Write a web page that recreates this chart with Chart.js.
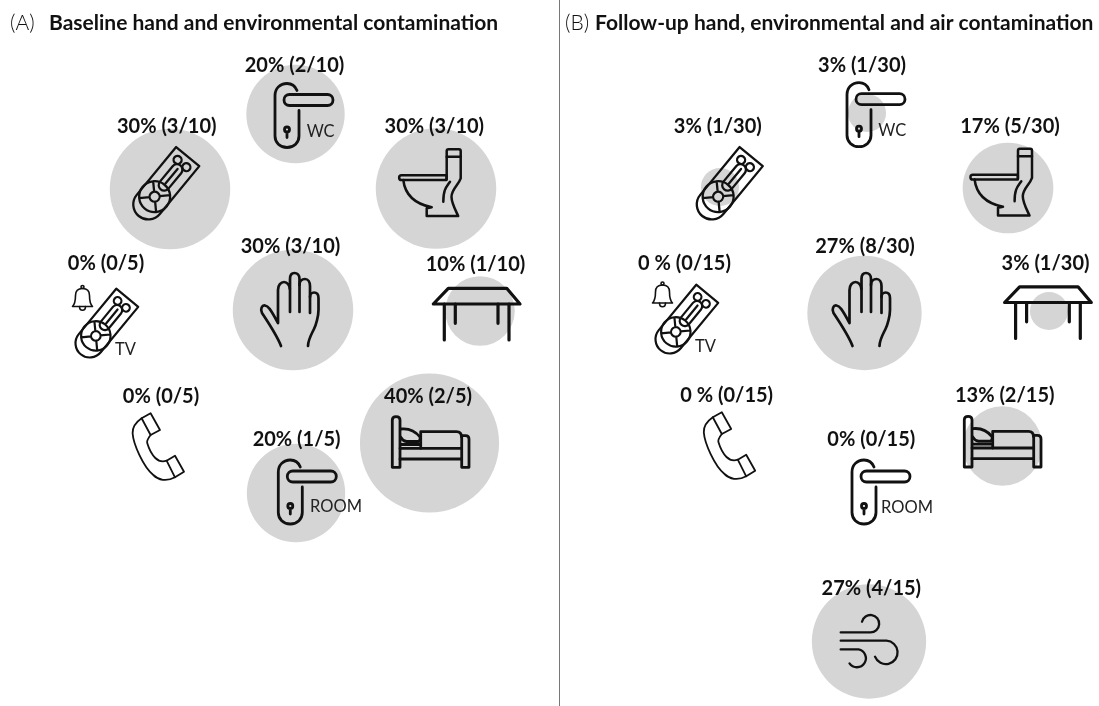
<!DOCTYPE html>
<html>
<head>
<meta charset="utf-8">
<title>Hand, environmental and air contamination</title>
<script src="https://cdn.jsdelivr.net/npm/chart.js@4"></script>
<style>
html, body { margin: 0; padding: 0; background: #fff; }
#wrap { width: 1099px; height: 706px; position: relative; }
#grafica { filter: blur(0.4px); }
</style>
</head>
<body>
<div id="wrap"><canvas id="grafica"></canvas></div>
<script>
// panel A, baseline
var percentA = [20, 30, 30, 0, 30, 10, 0, 20, 40];
var labelsA = ["20% (2/10)", "30% (3/10)", "30% (3/10)", "0% (0/5)", "30% (3/10)", "10% (1/10)", "0% (0/5)", "20% (1/5)", "40% (2/5)"];
var sitesA = ["door", "remote", "toilet", "remote", "hand", "table", "phone", "door", "bed"];
var bubbleXA = [295.5, 170, 436, 113, 293, 480, 158, 296, 429.5];
var bubbleYA = [114, 189, 188.5, 322, 310, 311, 447, 493, 443];
var labelXA = [294.5, 166.7, 434.3, 106, 290.5, 475.5, 161, 296.6, 428];
var labelYA = [71.7, 133.3, 133.3, 270, 253.3, 271, 403.3, 445.7, 402.7];
var iconXA = [304, 168, 430.5, 108.5, 289, 477, 158.3, 307.3, 430.5];
var iconYA = [115.5, 180.5, 183, 320.5, 310, 313.5, 447, 492, 442];

// panel B, follow-up
var percentB = [3, 3, 17, 0, 27, 3, 0, 0, 13, 27];
var labelsB = ["3% (1/30)", "3% (1/30)", "17% (5/30)", "0 % (0/15)", "27% (8/30)", "3% (1/30)", "0 % (0/15)", "0% (0/15)", "13% (2/15)", "27% (4/15)"];
var sitesB = ["door", "remote", "toilet", "remote", "hand", "table", "phone", "door", "bed", "wind"];
var bubbleXB = [867, 720, 1008, 684, 864.5, 1049, 729, 881, 1002.5, 869];
var bubbleYB = [113, 187, 188, 319, 313, 311, 446, 492, 446, 641.5];
var labelXB = [862, 717.8, 1010, 684.5, 865, 1045.5, 726.7, 871.3, 1004.7, 871.3];
var labelYB = [71.7, 133.3, 133.3, 270, 253.3, 270, 401.7, 446, 401.7, 595];
var iconXB = [876, 731.5, 1001.8, 688.5, 860.5, 1048.3, 729.5, 881, 1002.5, 869.5];
var iconYB = [114.7, 180.5, 182.5, 316.5, 310, 312, 446, 492, 441.7, 641.7];

// small captions next to the icons
var noteText = ["WC", "TV", "ROOM", "WC", "TV", "ROOM"];
var noteX = [306.7, 115, 310, 878.3, 695, 881];
var noteY = [137.3, 355, 512.3, 136, 351.7, 512.7];

var bellX = [82.5, 662.5];
var bellY = [298.5, 295];

var titleMarks = ["(A)", "(B)"];
var titleText = ["Baseline hand and environmental contamination", "Follow-up hand, environmental and air contamination"];
var titleMarkX = [10, 565];
var titleX = [49, 595];
var titleY = 30;

var dividerX = [559.5, 559.5];
var dividerY = [0, 706];

function radio(pct) {
    return 11 * Math.sqrt(pct);
}

function puntos(xs, ys, pcts) {
    return xs.map(function(x, i) {
        return { x: x, y: ys[i], r: radio(pcts[i]) };
    });
}

// line glyphs, drawn around 0,0
var glifos = {
    door: [new Path2D("M-7 -25 C-9 -30 -13 -32 -17 -32 C-24 -32 -29 -27 -29 -20 V20.5 C-29 27 -24 32 -17 32 C-10 32 -5 27 -5 20.5 V-5"),
           new Path2D("M-14.5 -21 H23.5 A5.5 5.5 0 0 1 23.5 -10 H-14.5 A5.5 5.5 0 0 1 -14.5 -21 Z"),
           new Path2D("M-14.5 14 A2.5 2.5 0 1 1 -19.5 14 A2.5 2.5 0 1 1 -14.5 14 Z M-17 16.5 V22")],
    remote: [new Path2D("M-31 -15 H31 V15 H-31 A15 15 0 0 1 -31 -15 Z"),
             new Path2D("M-6 -5.5 H14 A5.5 5.5 0 0 1 14 5.5 H-6 A5.5 5.5 0 0 1 -6 -5.5 Z M-4 0 H15"),
             new Path2D("M26 -5.7 A4 4 0 1 1 18 -5.7 A4 4 0 1 1 26 -5.7 Z M26 5.7 A4 4 0 1 1 18 5.7 A4 4 0 1 1 26 5.7 Z")],
    toilet: [new Path2D("M18 -33.7 H28.5 Q30.2 -33.7 30.2 -32 V-26.3 H16.2 V-32 Q16.2 -33.7 18 -33.7 Z"),
             new Path2D("M16.2 -26.3 V-4 M30.2 -26.3 V-4.7 C28 2 21 6 21 13.7 C21 20 25 27 27.7 33 H-3.8 V25.3 L1.2 24.3 C-10 22 -25 16 -27.2 -3"),
             new Path2D("M-29 -7.7 H16 V-3 H-29 A2.3 2.3 0 0 1 -29 -7.7 Z"),
             new Path2D("M19.5 -1.3 C16 4 12.8 6 12.8 18.7")],
    hand: [new Path2D("M-8 36 C-11 28 -15 21 -27 3 C-29 -1 -27 -5 -24 -4.5 C-21 -4 -19 -2 -11 13 V-20 C-11 -25 -8 -28 -5 -28 C-2 -28 1 -25 1 -20 V2"),
           new Path2D("M1 -21 V-31 C1 -35 3 -37 5.5 -37 C8 -37 10.5 -35 10.5 -31 V2"),
           new Path2D("M10.5 -25 C10.5 -29 13 -31 16 -31 C19 -31 21 -28 21 -24 V3"),
           new Path2D("M21 -13 C21 -16 23 -17.5 25 -17.5 C28 -17.5 29.5 -15 29.5 -12 V0 C29.5 6 27 15 25 19 C22 25 19 30 19 36")],
    table: [new Path2D("M-28.7 -25.2 H29.7 L43 -9.5 H-43.7 Z"),
            new Path2D("M-32.7 -9.5 V26.5 M32 -9.5 V26.5 M-21.7 -9.5 V9.8 M21 -9.5 V9.8")],
    phone: [new Path2D("M-16.7 -28.7 L-7.7 -33.7 L1.7 -17 L-7.7 -12 Z"),
            new Path2D("M8.3 13.7 L16.7 8.7 L25.7 24.7 L16.7 30.3 Z"),
            new Path2D("M-16.7 -28.7 C-22 -25 -26 -20 -25.7 -13.7 C-25 -3 -15 20 -5 28 C0 33 8 35 16.7 30.3"),
            new Path2D("M-7.7 -12 C-10 -9 -12 -6 -11 -3.7 C-9 3 -5 9 -3 11 C0 14 4 15 8.3 13.7")],
    bed: [new Path2D("M-38.2 25.3 V-22 Q-38.2 -25.3 -34.4 -25.3 Q-30.5 -25.3 -30.5 -22 V25.3 Z"),
          new Path2D("M31.2 -6.3 H35 Q38.5 -6.3 38.5 -3 V25.3 H31.2 Z"),
          new Path2D("M-30.5 6.3 H31.2 M-30.5 17 H31.2"),
          new Path2D("M-9.8 6.3 V-10.3 H26 Q31 -10.3 31 -5"),
          new Path2D("M-30 -13 C-22 -14 -16 -12 -10.5 -5 C-10 -3 -11 -1 -12 -0.5 H-24 C-27 -1 -29 -3 -30 -5 M-30 2.5 H-9.8")],
    wind: [new Path2D("M-28.8 -9.3 H1 A8.7 8.7 0 1 0 -7.5 -20"),
           new Path2D("M-28.8 -1 H17 A11.7 11.7 0 1 1 5.5 15"),
           new Path2D("M-28.8 7.7 H-11 A9 9 0 1 1 -20 21.7")],
    bell: [new Path2D("M-10 8 C-7 5 -7 1 -7 -3 C-7 -8 -4 -10 0 -10 C4 -10 7 -8 7 -3 C7 1 7 5 10 8 Z"),
           new Path2D("M-3 8 C-3 13 3 13 3 8"),
           new Path2D("M-1.5 -11.5 A1.5 1.5 0 1 1 1.5 -11.5 A1.5 1.5 0 1 1 -1.5 -11.5 Z")]
};
var grosor = { door: 2.8, remote: 2.3, toilet: 2.5, hand: 2.7, table: 3.2, phone: 1.8, bed: 2.8, wind: 2.3, bell: 1.6 };

function pintarGlifo(ctx, nombre, x, y, escala) {
    ctx.save();
    ctx.translate(x, y);
    ctx.scale(escala, escala);
    if (nombre == "remote") {
        ctx.rotate(-50.5 * Math.PI / 180);
    }
    ctx.lineWidth = grosor[nombre];
    ctx.lineCap = "round";
    ctx.lineJoin = "round";
    ctx.strokeStyle = "#111";
    glifos[nombre].forEach(function(p) { ctx.stroke(p); });
    if (nombre == "remote") {
        // dial of the remote
        ctx.beginPath();
        ctx.arc(-21, 0, 15.5, 0, Math.PI * 2);
        ctx.moveTo(-16, 0);
        ctx.arc(-21, 0, 5, 0, Math.PI * 2);
        for (var k = 0; k < 4; k++) {
            var a = Math.PI / 4 + k * Math.PI / 2;
            ctx.moveTo(-21 + 5 * Math.cos(a), 5 * Math.sin(a));
            ctx.lineTo(-21 + 15.5 * Math.cos(a), 15.5 * Math.sin(a));
        }
        ctx.stroke();
    }
    ctx.restore();
}

var dibujos = {
    id: "dibujos",
    afterDatasetsDraw: function(chart) {
        var ctx = chart.ctx;
        var sx = chart.scales.x;
        var sy = chart.scales.y;

        sitesA.forEach(function(s, i) {
            var esc = i == 3 ? 0.95 : 1;
            pintarGlifo(ctx, s, sx.getPixelForValue(iconXA[i]), sy.getPixelForValue(iconYA[i]), esc);
        });
        sitesB.forEach(function(s, i) {
            var esc = i == 3 ? 0.95 : 1;
            pintarGlifo(ctx, s, sx.getPixelForValue(iconXB[i]), sy.getPixelForValue(iconYB[i]), esc);
        });
        bellX.forEach(function(x, i) {
            pintarGlifo(ctx, "bell", sx.getPixelForValue(x), sy.getPixelForValue(bellY[i]), 1);
        });

        ctx.save();
        ctx.fillStyle = "#111";
        ctx.textBaseline = "alphabetic";
        ctx.textAlign = "center";
        ctx.font = "bold 20px Lato";
        labelsA.forEach(function(t, i) {
            ctx.fillText(t, sx.getPixelForValue(labelXA[i]), sy.getPixelForValue(labelYA[i]));
        });
        labelsB.forEach(function(t, i) {
            ctx.fillText(t, sx.getPixelForValue(labelXB[i]), sy.getPixelForValue(labelYB[i]));
        });

        ctx.textAlign = "left";
        ctx.font = "16.5px Lato";
        ctx.fillStyle = "#222";
        noteText.forEach(function(t, i) {
            ctx.fillText(t, sx.getPixelForValue(noteX[i]), sy.getPixelForValue(noteY[i]));
        });

        ctx.fillStyle = "#111";
        titleText.forEach(function(t, i) {
            ctx.font = "300 21px Lato";
            ctx.fillText(titleMarks[i], sx.getPixelForValue(titleMarkX[i]), sy.getPixelForValue(titleY));
            ctx.font = "bold 21px Lato";
            ctx.fillText(t, sx.getPixelForValue(titleX[i]), sy.getPixelForValue(titleY));
        });
        ctx.restore();
    }
};

var grafica = new Chart(document.getElementById("grafica").getContext("2d"), {
    type: "bubble",
    data: {
        datasets: [{
            label: "Baseline",
            data: puntos(bubbleXA, bubbleYA, percentA),
            backgroundColor: "#d5d5d5",
            borderWidth: 0,
            clip: false
        }, {
            label: "Follow-up",
            data: puntos(bubbleXB, bubbleYB, percentB),
            backgroundColor: "#d5d5d5",
            borderWidth: 0,
            clip: false
        }, {
            type: "scatter",
            label: "divider",
            data: dividerX.map(function(x, i) { return { x: x, y: dividerY[i] }; }),
            showLine: true,
            pointRadius: 0,
            borderColor: "#777",
            borderWidth: 1,
            clip: false
        }]
    },
    options: {
        responsive: true,
        maintainAspectRatio: false,
        animation: false,
        layout: { padding: 0, autoPadding: false },
        plugins: { legend: { display: false }, title: { display: false }, tooltip: { enabled: false } },
        scales: {
            x: { type: "linear", min: 0, max: 1099, display: false },
            y: { type: "linear", min: 0, max: 706, reverse: true, display: false }
        }
    },
    plugins: [dibujos]
});
</script>
</body>
</html>
